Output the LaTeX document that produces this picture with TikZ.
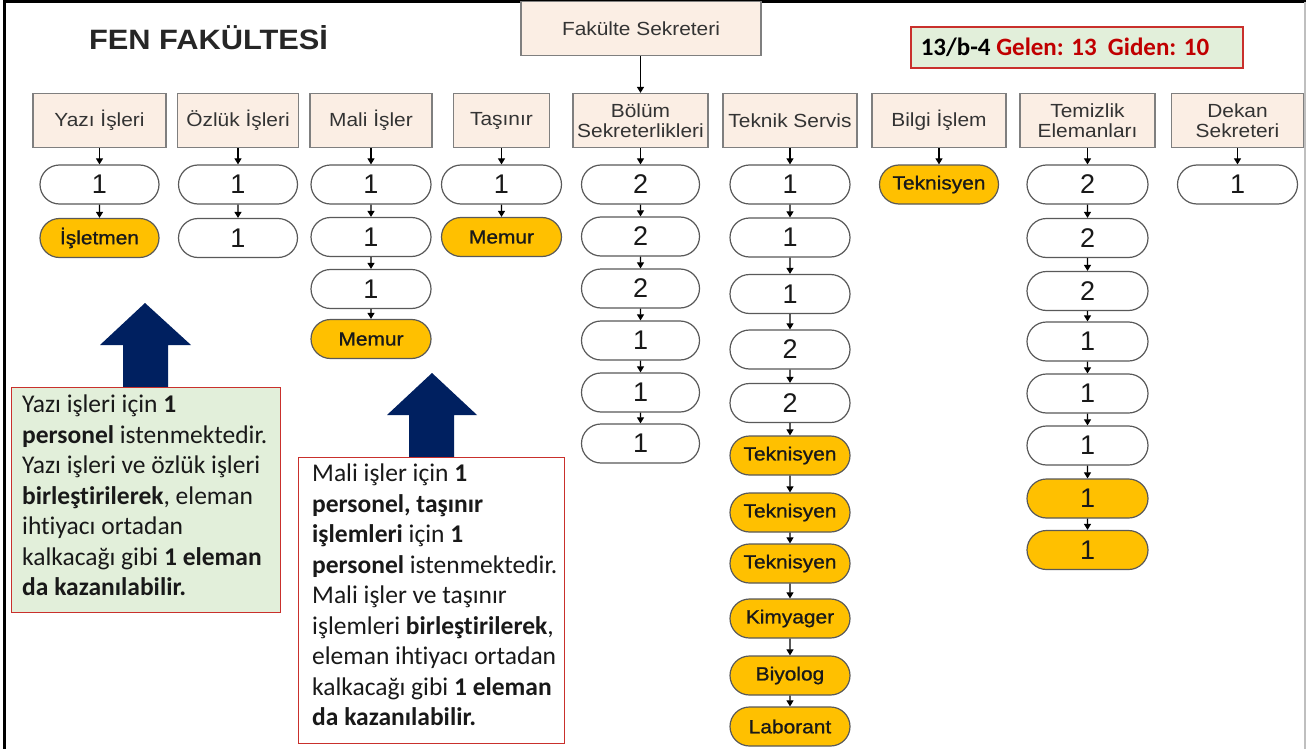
\documentclass[tikz,border=0pt]{standalone}
\usepackage{fontspec}
\setmainfont{Liberation Sans}
\newfontfamily\hfont[FakeStretch=1.1]{Liberation Sans}
\newfontfamily\yfont[FakeStretch=1.1,FakeBold=1]{Liberation Sans}
\newfontfamily\calfont[Ligatures=NoCommon]{Carlito}
\usetikzlibrary{arrows.meta,shapes.misc}
\definecolor{peach}{HTML}{FBEEE4}
\definecolor{hborder}{HTML}{7F7F7F}
\definecolor{pborder}{HTML}{595959}
\definecolor{gold}{HTML}{FFC000}
\definecolor{lgreen}{HTML}{E2EFDA}
\definecolor{bred}{HTML}{C9302C}
\definecolor{dred}{HTML}{C00000}
\definecolor{navy}{HTML}{002060}
\begin{document}
\begin{tikzpicture}[x=1pt,y=-1pt,
 hdr/.style={draw=hborder, fill=peach, line width=1.2pt, minimum height=54pt, inner sep=0pt, align=center, font=\hfont\fontsize{19}{20.5}\selectfont, text=black!80},
 pill/.style={rounded rectangle, draw=pborder, fill=white, line width=1.2pt, minimum height=39pt, minimum width=119pt, inner sep=0pt, font=\fontsize{27}{28}\selectfont, text=black!90},
 ypill/.style={pill, fill=gold, font=\yfont\fontsize{19}{20}\selectfont, text=black!90},
 conn/.style={-{Triangle[width=7pt,length=6pt]}, line width=1.1pt, black},
 note/.style={draw=bred, line width=1.2pt, inner sep=0pt, anchor=north west},
 notetext/.style={anchor=north west, inner sep=0pt, align=left, font=\calfont\fontsize{25.5}{30.5}\selectfont, text=black!90}]
\useasboundingbox (0,0) rectangle (1306,749);
\fill[white] (0,0) rectangle (1306,749);
% frame
\draw[line width=3pt] (4,749) -- (4,2) -- (1306,2);
\draw[black!25, line width=1.5pt] (1305,2) -- (1305,749);

\node[font=\hfont\bfseries\fontsize{28}{30}\selectfont, text=black!85] (title) at (208.5,38) {FEN FAKÜLTESİ};

\node[hdr, minimum width=240pt] (fak) at (641,28.5) {Fakülte Sekreteri};

% headers
\node[hdr, minimum width=133pt] (h1) at (99.5,120.5) {Yazı İşleri};
\node[hdr, minimum width=121pt] (h2) at (238,120.5) {Özlük İşleri};
\node[hdr, minimum width=122pt] (h3) at (371,120.5) {Mali İşler};
\node[hdr, minimum width=96pt] (h4) at (501.5,120.5) {Taşınır};
\node[hdr, minimum width=135pt] (h5) at (640.5,120.5) {Bölüm\\Sekreterlikleri};
\node[hdr, minimum width=134pt] (h6) at (790,120.5) {Teknik Servis};
\node[hdr, minimum width=134pt] (h7) at (939,120.5) {Bilgi İşlem};
\node[hdr, minimum width=135pt] (h8) at (1087.5,120.5) {Temizlik\\Elemanları};
\node[hdr, minimum width=132pt] (h9) at (1237.5,120.5) {Dekan\\Sekreteri};

\draw[conn] (fak.south -| h5.north) -- (h5.north);

% Yazi
\node[pill] (a1) at (99.5,184.5) {1};
\node[ypill] (a2) at (99.5,238) {İşletmen};
\draw[conn] (h1) -- (a1); \draw[conn] (a1) -- (a2);
% Ozluk
\node[pill] (b1) at (238,184.5) {1};
\node[pill] (b2) at (238,238) {1};
\draw[conn] (h2) -- (b1); \draw[conn] (b1) -- (b2);
% Mali
\node[pill, minimum width=120pt] (c1) at (371,184.5) {1};
\node[pill, minimum width=120pt] (c2) at (371,237) {1};
\node[pill, minimum width=120pt] (c3) at (371,289) {1};
\node[ypill, minimum width=120pt] (c4) at (371,339) {Memur};
\draw[conn] (h3) -- (c1); \draw[conn] (c1) -- (c2); \draw[conn] (c2) -- (c3); \draw[conn] (c3) -- (c4);
% Tasinir
\node[pill, minimum width=120pt] (d1) at (501.5,184.5) {1};
\node[ypill, minimum width=120pt] (d2) at (501.5,237) {Memur};
\draw[conn] (h4) -- (d1); \draw[conn] (d1) -- (d2);
% Bolum
\node[pill, minimum width=118pt] (e1) at (640.5,184.5) {2};
\node[pill, minimum width=118pt] (e2) at (640.5,236.5) {2};
\node[pill, minimum width=118pt] (e3) at (640.5,288.5) {2};
\node[pill, minimum width=118pt] (e4) at (640.5,340.5) {1};
\node[pill, minimum width=118pt] (e5) at (640.5,392.5) {1};
\node[pill, minimum width=118pt] (e6) at (640.5,443.5) {1};
\draw[conn] (h5) -- (e1); \draw[conn] (e1) -- (e2); \draw[conn] (e2) -- (e3);
\draw[conn] (e3) -- (e4); \draw[conn] (e4) -- (e5); \draw[conn] (e5) -- (e6);
% Teknik
\node[pill, minimum width=120pt] (f1) at (790,184.5) {1};
\node[pill, minimum width=120pt] (f2) at (790,237.5) {1};
\node[pill, minimum width=120pt] (f3) at (790,294) {1};
\node[pill, minimum width=120pt] (f4) at (790,349.5) {2};
\node[pill, minimum width=120pt] (f5) at (790,403) {2};
\node[ypill, minimum width=120pt] (f6) at (790,455.5) {Teknisyen};
\node[ypill, minimum width=120pt] (f7) at (790,512.5) {Teknisyen};
\node[ypill, minimum width=120pt] (f8) at (790,563.5) {Teknisyen};
\node[ypill, minimum width=120pt] (f9) at (790,618.5) {Kimyager};
\node[ypill, minimum width=120pt] (f10) at (790,675.5) {Biyolog};
\node[ypill, minimum width=120pt] (f11) at (790,726.5) {Laborant};
\draw[conn] (h6) -- (f1);
\foreach \i/\j in {1/2,2/3,3/4,4/5,5/6,6/7,7/8,8/9,9/10,10/11} {\draw[conn] (f\i) -- (f\j);}
% Bilgi
\node[ypill] (g1) at (939,184.5) {Teknisyen};
\draw[conn] (h7) -- (g1);
% Temizlik
\node[pill, minimum width=121pt] (k1) at (1087.5,184.5) {2};
\node[pill, minimum width=121pt] (k2) at (1087.5,238) {2};
\node[pill, minimum width=121pt] (k3) at (1087.5,291) {2};
\node[pill, minimum width=121pt] (k4) at (1087.5,341.5) {1};
\node[pill, minimum width=121pt] (k5) at (1087.5,393.5) {1};
\node[pill, minimum width=121pt] (k6) at (1087.5,445.5) {1};
\node[pill, minimum width=121pt, fill=gold] (k7) at (1087.5,498.5) {1};
\node[pill, minimum width=121pt, fill=gold] (k8) at (1087.5,550) {1};
\draw[conn] (h8) -- (k1);
\foreach \i/\j in {1/2,2/3,3/4,4/5,5/6,6/7,7/8} {\draw[conn] (k\i) -- (k\j);}
% Dekan
\node[pill, minimum width=120pt] (m1) at (1237.5,184.5) {1};
\draw[conn] (h9) -- (m1);

% status box
\node[draw=bred, fill=lgreen, line width=1.2pt, minimum width=332pt, minimum height=41pt, inner sep=0pt] (stat) at (1077,47.5) {};
\node[inner sep=0pt, font=\calfont\bfseries\fontsize{25}{30}\selectfont] (stattext) at (1065,47.5) {13/b-4 \textcolor{dred}{Gelen: 13\ \ Giden: 10}};

% blue arrows
\fill[navy] (145,303) -- (191,345) -- (168,345) -- (168,387) -- (123,387) -- (123,345) -- (100,345) -- cycle;
\fill[navy] (432,373) -- (477,415) -- (454,415) -- (454,457) -- (409,457) -- (409,415) -- (387,415) -- cycle;

% note boxes
\node[note, fill=lgreen, minimum width=269pt, minimum height=225pt] (n1) at (11,387) {};
\node[notetext] (n1t) at (22,395) {Yazı işleri için \textbf{1}\\ \textbf{personel} istenmektedir.\\ Yazı işleri ve özlük işleri\\ \textbf{birleştirilerek}, eleman\\ ihtiyacı ortadan\\ kalkacağı gibi \textbf{1 eleman}\\ \textbf{da kazanılabilir.}};
\node[note, fill=white, minimum width=266pt, minimum height=286pt] (n2) at (298,457) {};
\node[notetext] (n2t) at (312,464) {Mali işler için \textbf{1}\\ \textbf{personel, taşınır}\\ \textbf{işlemleri} için \textbf{1}\\ \textbf{personel} istenmektedir.\\ Mali işler ve taşınır\\ işlemleri \textbf{birleştirilerek},\\ eleman ihtiyacı ortadan\\ kalkacağı gibi \textbf{1 eleman}\\ \textbf{da kazanılabilir.}};
\end{tikzpicture}
\end{document}
